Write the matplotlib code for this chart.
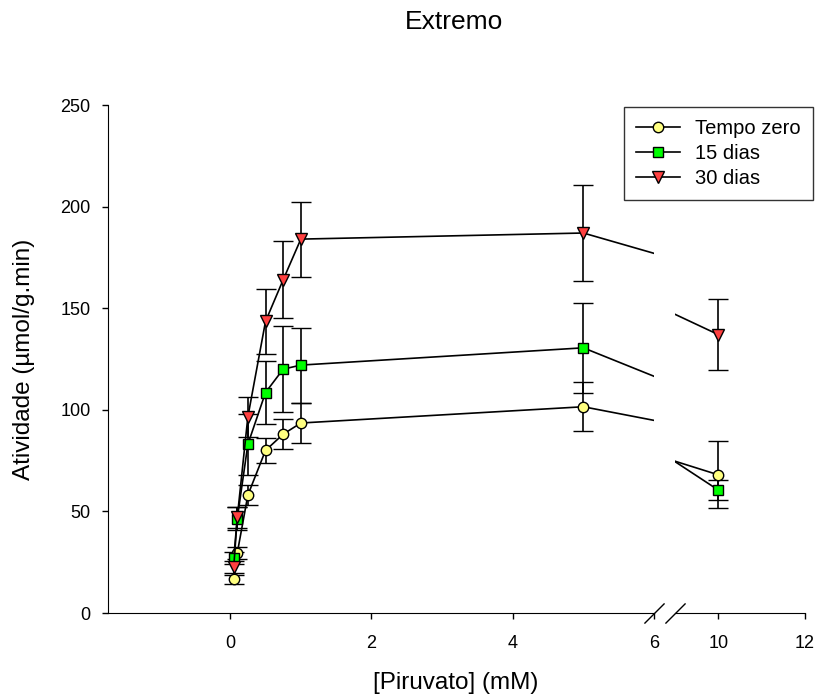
import numpy as np
import matplotlib.pyplot as plt
from matplotlib.lines import Line2D

plt.rcParams['font.family'] = ['Liberation Sans', 'DejaVu Sans']

piruvato = [0.05, 0.1, 0.25, 0.5, 0.75, 1, 5, 10]

tempo_zero = [16.5, 29.5, 58, 80, 88, 93.5, 101.5, 68]
tempo_zero_err = [2, 3, 5, 6, 7.5, 10, 12, 16.5]
dias_15 = [27, 46.5, 83, 108.5, 120, 122, 130.5, 60.5]
dias_15_err = [3, 5.5, 15, 15.5, 21, 18.5, 22, 5]
dias_30 = [22.5, 47, 96.5, 143.5, 164, 184, 187, 137]
dias_30_err = [3, 5, 10, 16, 19, 18.5, 23.5, 17.5]

series = [
    ("Tempo zero", tempo_zero, tempo_zero_err, "o", "#ffff80", 7.5),
    ("15 dias", dias_15, dias_15_err, "s", "#00ff00", 7.5),
    ("30 dias", dias_30, dias_30_err, "v", "#ff4040", 8.5),
]

fig = plt.figure(figsize=(8.16, 6.99), dpi=100)
ax1 = fig.add_axes([108 / 816, 86 / 699, 546 / 816, 508 / 699])
ax2 = fig.add_axes([675 / 816, 86 / 699, 130 / 816, 508 / 699], sharey=ax1)

for ax in (ax1, ax2):
    for nome, y, erro, marcador, cor, tam in series:
        ax.errorbar(piruvato, y, yerr=erro, fmt="-", color="black", lw=1.2,
                    elinewidth=1.2, capsize=7, capthick=1.2,
                    marker=marcador, markersize=tam, markerfacecolor=cor,
                    markeredgecolor="black", markeredgewidth=1)
    ax.spines["top"].set_visible(False)
    ax.spines["right"].set_visible(False)
    ax.tick_params(direction="out", length=4.5, width=1, labelsize=13)
    ax.tick_params(axis="x", pad=11)
    ax.tick_params(axis="y", pad=8)

ax1.set_xlim(-1.73, 6)
ax2.set_xlim(9, 12)
ax1.set_ylim(0, 250)
ax1.set_xticks([0, 2, 4, 6])
ax2.set_xticks([10, 12])
ax1.set_yticks([0, 50, 100, 150, 200, 250])
ax2.spines["left"].set_visible(False)
ax2.tick_params(axis="y", left=False, labelleft=False)

# marcas de quebra do eixo
ax1.plot([1], [0], marker=[(-1, -1), (1, 1)], markersize=14.5, color="black",
         mew=1, transform=ax1.transAxes, clip_on=False)
ax2.plot([0], [0], marker=[(-1, -1), (1, 1)], markersize=14.5, color="black",
         mew=1, transform=ax2.transAxes, clip_on=False)

fig.text(454 / 816, 1 - 22 / 699, "Extremo", ha="center", va="center", fontsize=19)
fig.text(456 / 816, 1 - 683 / 699, "[Piruvato] (mM)", ha="center", va="center", fontsize=17.5)
fig.text(24 / 816, 1 - 359 / 699, "Atividade (µmol/g.min)", ha="center", va="center",
         rotation=90, fontsize=17.5)

handles = [Line2D([], [], color="black", lw=1.2, marker=m, markersize=t,
                  markerfacecolor=c, markeredgecolor="black", markeredgewidth=1)
           for _, _, _, m, c, t in series]
leg = fig.legend(handles, [s[0] for s in series], loc="upper left",
                 bbox_to_anchor=(624 / 816, 1 - 107 / 699), fontsize=14.5,
                 frameon=True, fancybox=False, handlelength=2.2,
                 labelspacing=0.3, borderpad=0.6, handletextpad=0.75,
                 borderaxespad=0)
leg.get_frame().set_edgecolor("black")
leg.get_frame().set_linewidth(1)

fig.savefig("out.png", dpi=100)
